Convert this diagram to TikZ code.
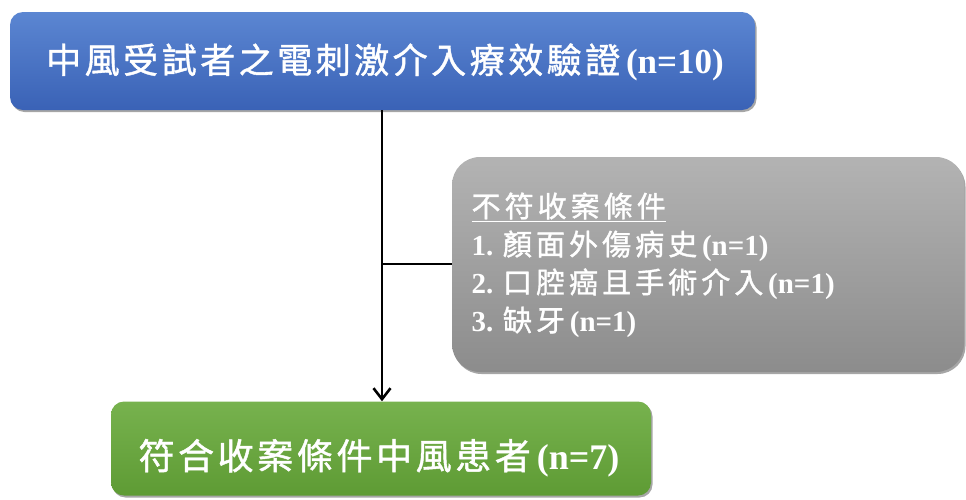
\documentclass[tikz,border=0pt]{standalone}
\usepackage{fontspec}
\setmainfont{Liberation Serif}
\newfontfamily\cjk{Noto Sans CJK TC}[LetterSpace=10, FakeBold=1.2]
\newfontfamily\cjkwide{Noto Sans CJK TC}[LetterSpace=14, FakeBold=1.2]
\newcommand\zh[1]{{\cjk\mdseries #1}}
\newcommand\zhw[1]{{\cjkwide\mdseries #1}}
\usetikzlibrary{shadows,arrows.meta}
\definecolor{bluetop}{HTML}{5B86D2}
\definecolor{bluebot}{HTML}{3A62B6}
\definecolor{graytop}{HTML}{B3B3B3}
\definecolor{graybot}{HTML}{8C8C8C}
\definecolor{greentop}{HTML}{77B24E}
\definecolor{greenbot}{HTML}{5E9B34}
\tikzset{
  box/.style={rectangle, text=white, inner sep=0pt, drop shadow={shadow xshift=1.5pt, shadow yshift=-2pt, opacity=0.35, fill=black}},
  bluebox/.style={box, rounded corners=13pt, top color=bluetop, bottom color=bluebot, minimum width=745pt, minimum height=98pt},
  graybox/.style={box, rounded corners=28pt, top color=graytop, bottom color=graybot, minimum width=512pt, minimum height=215pt},
  greenbox/.style={box, rounded corners=13pt, top color=greentop, bottom color=greenbot, minimum width=540pt, minimum height=94pt},
  conn/.style={line width=2.8pt, black},
  branch/.style={line width=1.4pt, black},
}
\begin{document}
\begin{tikzpicture}[x=1pt,y=-1pt]
\useasboundingbox (0,0) rectangle (966,499);
\node[bluebox] (top) at (382.5,61) {};
\node[text=white, font=\fontsize{35}{40}\selectfont\bfseries] (toptext) at (385,62) {\zh{中風受試者之電刺激介入療效驗證}\,(n=10)};
\node[graybox] (excl) at (708,264.5) {};
\node[text=white, anchor=north west, align=left, font=\fontsize{29}{38}\selectfont\bfseries] (excltext) at (468,189) {\underline{\zhw{不符收案條件}}\\1. \zhw{顏面外傷病史}\,(n=1)\\2. \zhw{口腔癌且手術介入}\,(n=1)\\3. \zhw{缺牙}\,(n=1)};
\node[greenbox] (bot) at (381,448.5) {};
\node[text=white, font=\fontsize{36}{40}\selectfont\bfseries] (bottext) at (379,458) {\zh{符合收案條件中風患者}\,(n=7)};
\coordinate (j) at (382,264);
\draw[conn, -{Straight Barb[length=11pt,width=17pt,line width=2.6pt]}] (top.south -| j) -- (bot.north -| j);
\draw[branch] (j) -- (excl.west |- j);
\end{tikzpicture}
\end{document}
